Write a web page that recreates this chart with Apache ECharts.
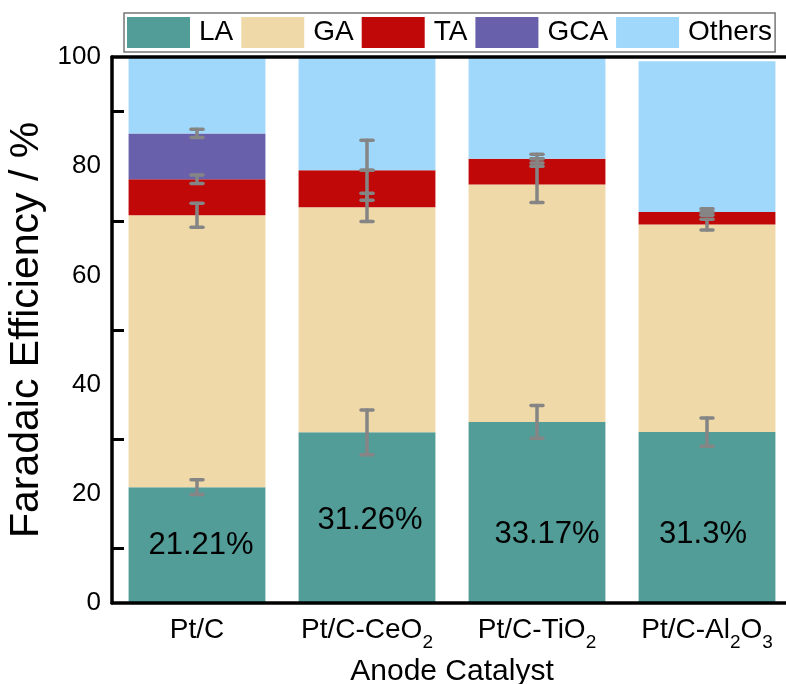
<!DOCTYPE html>
<html>
<head>
<meta charset="utf-8">
<script src="https://cdn.jsdelivr.net/npm/echarts@6/dist/echarts.min.js"></script>
<style>
  html, body { margin: 0; padding: 0; background: #fff; }
  #chart { width: 786px; height: 684px; }
</style>
</head>
<body>
<div id="chart"></div>
<script>
// catalysts on the x axis
var categories = ['Pt/C', 'Pt/C-CeO2', 'Pt/C-TiO2', 'Pt/C-Al2O3'];
var seriesNames = ['LA', 'GA', 'TA', 'GCA', 'Others'];

// faradaic efficiency (%) per product
var LA = [21.21, 31.26, 33.17, 31.3];
var GA = [49.8, 41.2, 43.5, 38.0];
var TA = [6.6, 6.8, 4.7, 2.3];
var GCA = [8.4, 0, 0, 0];
var Others = [14.0, 20.7, 18.6, 27.6];

// error (+/-) per product
var errLA = [1.35, 4.1, 3.0, 2.6];
var errGA = [2.2, 2.6, 3.3, 1.0];
var errTA = [0.8, 5.5, 0.8, 0.6];
var errGCA = [0.75, 0, 0, 0];

var FONT = '"Liberation Sans", Arial, sans-serif';
var colors = ['#539d98', '#efd9a9', '#c00808', '#6860ab', '#a0d8fb'];
var labelShift = [[4, 0], [3, 3], [10, 22], [-4, 17]];

var chart = echarts.init(document.getElementById('chart'));

// error bars sit on the cumulative top of each segment
var stacks = [LA, GA, TA, GCA];
var errs = [errLA, errGA, errTA, errGCA];
var errData = [];
var running = categories.map(function () { return 0; });
stacks.forEach(function (arr, s) {
    arr.forEach(function (v, i) {
        running[i] += v;
        errData.push([i, running[i], errs[s][i]]);
    });
});

function renderError(params, api) {
    var x = api.value(0), y = api.value(1), e = api.value(2);
    var hi = api.coord([x, y + e]);
    var lo = api.coord([x, y - e]);
    var w = 6;
    var style = { stroke: '#858585', lineWidth: 3.5, lineCap: 'round' };
    return {
        type: 'group',
        children: [
            { type: 'line', shape: { x1: hi[0], y1: hi[1], x2: lo[0], y2: lo[1] }, style: style },
            { type: 'line', shape: { x1: hi[0] - w, y1: hi[1], x2: hi[0] + w, y2: hi[1] }, style: style },
            { type: 'line', shape: { x1: lo[0] - w, y1: lo[1], x2: lo[0] + w, y2: lo[1] }, style: style }
        ]
    };
}

var values = [LA, GA, TA, GCA, Others];
var barSeries = seriesNames.map(function (name, s) {
    var item = {
        name: name,
        type: 'bar',
        stack: 'total',
        barCategoryGap: '19.5%',
        itemStyle: { color: colors[s] },
        data: values[s]
    };
    if (name === 'LA') {
        item.data = LA.map(function (v, i) {
            return { value: v, label: { offset: labelShift[i] } };
        });
        item.label = {
            show: true,
            position: 'inside',
            formatter: function (p) { return p.value + '%'; },
            fontSize: 31,
            fontFamily: FONT,
            color: '#000'
        };
    }
    return item;
});

var option = {
    animation: false,
    textStyle: { fontFamily: FONT },
    legend: {
        data: seriesNames,
        icon: 'rect',
        left: 124,
        top: 13,
        itemWidth: 63,
        itemHeight: 31,
        itemGap: 8,
        padding: [4, 3, 4, 3],
        borderColor: '#777',
        borderWidth: 1.5,
        textStyle: { fontSize: 28, color: '#000', fontFamily: FONT, padding: [0, 0, 0, 4] }
    },
    grid: {
        left: 112,
        top: 57,
        width: 680,
        height: 546,
        containLabel: false,
        outerBoundsMode: 'none'
    },
    xAxis: [
        {
            type: 'category',
            data: categories,
            name: 'Anode Catalyst',
            nameLocation: 'middle',
            nameGap: 38,
            nameTextStyle: { fontSize: 30, color: '#000', fontFamily: FONT },
            z: 5,
            axisLine: { lineStyle: { color: '#000', width: 3.5 } },
            axisTick: { alignWithLabel: true, inside: true, length: 11, lineStyle: { color: '#000', width: 3 } },
            axisLabel: {
                interval: 0,
                hideOverlap: false,
                margin: 13,
                color: '#000',
                formatter: function (v) {
                    return v.split(/(\d)/).filter(function (t) { return t !== ''; }).map(function (t) {
                        return /^\d$/.test(t) ? '{sub|' + t + '}' : '{n|' + t + '}';
                    }).join('');
                },
                rich: {
                    n: { fontSize: 28, lineHeight: 34, verticalAlign: 'top', color: '#000', fontFamily: FONT },
                    sub: { fontSize: 19, lineHeight: 19, verticalAlign: 'top', padding: [17, 0, 0, 0], color: '#000', fontFamily: FONT }
                }
            }
        },
        {
            type: 'category',
            data: categories,
            position: 'bottom',
            z: 5,
            axisLine: { show: false },
            axisLabel: { show: false },
            axisTick: { inside: true, length: 6, lineStyle: { color: '#000', width: 3 } }
        },
        {
            type: 'category',
            data: categories,
            position: 'top',
            z: 5,
            axisLine: { lineStyle: { color: '#000', width: 3.5 } },
            axisLabel: { show: false },
            axisTick: { show: false }
        }
    ],
    yAxis: {
        type: 'value',
        min: 0,
        max: 100,
        interval: 20,
        name: 'Faradaic Efficiency / %',
        nameLocation: 'middle',
        nameGap: 60,
        nameTextStyle: { fontSize: 41, color: '#000', fontFamily: FONT },
        z: 5,
        axisLine: { show: true, lineStyle: { color: '#000', width: 3.5 } },
        axisTick: { inside: true, length: 12, lineStyle: { color: '#000', width: 3 } },
        minorTick: { show: true, splitNumber: 2, length: 12, lineStyle: { color: '#000', width: 3 } },
        splitLine: { show: false },
        axisLabel: { fontSize: 26, color: '#000', margin: 11, fontFamily: FONT }
    },
    series: barSeries.concat([{
        type: 'custom',
        name: 'err',
        renderItem: renderError,
        encode: { x: 0, y: 1 },
        z: 10,
        silent: true,
        data: errData
    }])
};

chart.setOption(option);
</script>
</body>
</html>
